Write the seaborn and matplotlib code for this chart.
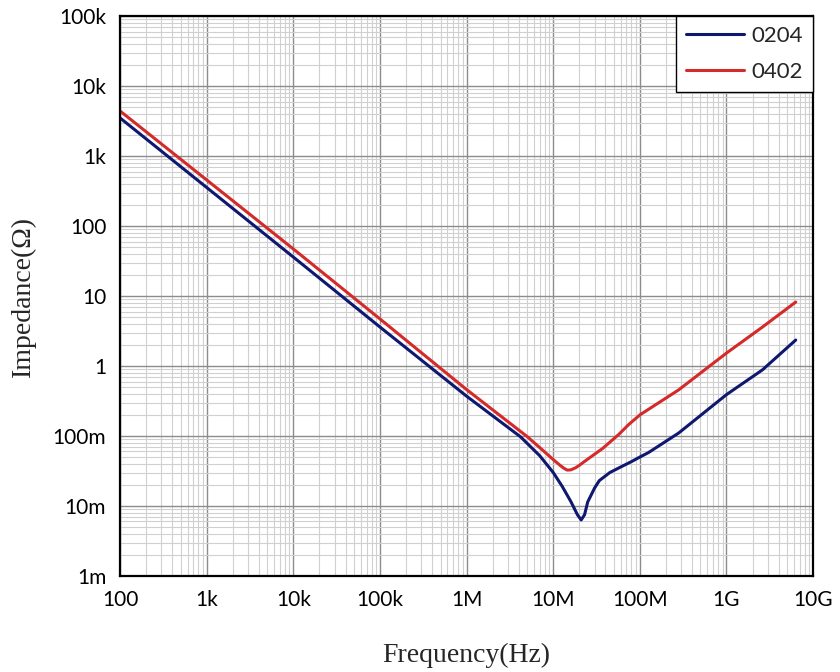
import numpy as np
import pandas as pd
import matplotlib
matplotlib.use("Agg")
import matplotlib.pyplot as plt
from matplotlib.ticker import LogLocator, FixedLocator, FixedFormatter, NullFormatter
import seaborn as sns

# impedance curves
freq_0204 = [1e2, 1e3, 1e4, 1e5, 1e6, 4.2e6, 7e6, 1e7, 1.27e7, 1.6e7, 1.9e7, 2.1e7,
             2.3e7, 2.5e7, 3.0e7, 3.4e7, 4.5e7, 6e7, 8e7, 1e8, 1.26e8, 2.8e8,
             1e9, 2.6e9, 6.3e9]
z_0204 = [3500, 355, 36, 3.6, 0.37, 0.097, 0.052, 0.030, 0.019, 0.0115, 0.0075, 0.0063,
          0.0075, 0.0114, 0.018, 0.023, 0.030, 0.036, 0.043, 0.050, 0.058, 0.11,
          0.39, 0.88, 2.35]

freq_0402 = [1e2, 1e3, 1e4, 1e5, 1e6, 3e6, 5e6, 7e6, 1e7, 1.2e7, 1.33e7, 1.45e7, 1.6e7,
             1.8e7, 2e7, 2.4e7, 3.7e7, 5.7e7, 7.4e7, 1e8, 2.8e8, 1e9, 2.6e9, 6.3e9]
z_0402 = [4400, 455, 47, 4.7, 0.46, 0.16, 0.098, 0.068, 0.046, 0.038, 0.0345, 0.0325, 0.0328,
          0.035, 0.038, 0.045, 0.066, 0.105, 0.145, 0.20, 0.455, 1.53, 3.6, 8.2]

x_ticks = [1e2, 1e3, 1e4, 1e5, 1e6, 1e7, 1e8, 1e9, 1e10]
x_labels = ["100", "1k", "10k", "100k", "1M", "10M", "100M", "1G", "10G"]
y_ticks = [1e-3, 1e-2, 1e-1, 1, 10, 100, 1e3, 1e4, 1e5]
y_labels = ["1m", "10m", "100m", "1", "10", "100", "1k", "10k", "100k"]

df = pd.concat([
    pd.DataFrame({"f": freq_0204, "z": z_0204, "part": "0204"}),
    pd.DataFrame({"f": freq_0402, "z": z_0402, "part": "0402"}),
])

sns.set_style("white")
plt.rcParams["font.family"] = ["Lato", "DejaVu Sans"]

fig = plt.figure(figsize=(8.4, 6.72), dpi=100)
ax = fig.add_axes([0.143, 0.143, 0.825, 0.833])

sns.lineplot(data=df, x="f", y="z", hue="part", palette=["#0f1870", "#d42a2a"],
             estimator=None, sort=False, linewidth=2.2, ax=ax)

ax.set_xscale("log")
ax.set_yscale("log")
ax.set_xlim(1e2, 1e10)
ax.set_ylim(1e-3, 1e5)

ax.xaxis.set_major_locator(FixedLocator(x_ticks))
ax.xaxis.set_major_formatter(FixedFormatter(x_labels))
ax.yaxis.set_major_locator(FixedLocator(y_ticks))
ax.yaxis.set_major_formatter(FixedFormatter(y_labels))
for a in (ax.xaxis, ax.yaxis):
    a.set_minor_locator(LogLocator(base=10, subs=np.arange(2, 10), numticks=30))
    a.set_minor_formatter(NullFormatter())

ax.grid(True, which="major", color="#8c8c8c", linewidth=1.0)
ax.grid(True, which="minor", color="#d0d0d0", linewidth=0.8)
ax.set_axisbelow(True)
ax.tick_params(which="both", length=0, labelsize=15, colors="black")
ax.tick_params(axis="x", pad=10)
ax.tick_params(axis="y", pad=10)

for s in ax.spines.values():
    s.set_color("black")
    s.set_linewidth(1.6)

ax.set_xlabel("Frequency(Hz)", family="Liberation Serif", fontsize=20, labelpad=24)
ax.set_ylabel("Impedance(Ω)", family="Liberation Serif", fontsize=20, labelpad=12)

leg = ax.legend(loc="upper right", fontsize=16, frameon=True, fancybox=False,
                handlelength=2.6, handletextpad=0.35, borderaxespad=0.0, borderpad=0.45,
                labelspacing=0.7, title=None)
leg.get_frame().set_edgecolor("black")
leg.get_frame().set_linewidth(1.0)
leg.get_frame().set_alpha(1.0)

fig.savefig("out.png", dpi=100)
